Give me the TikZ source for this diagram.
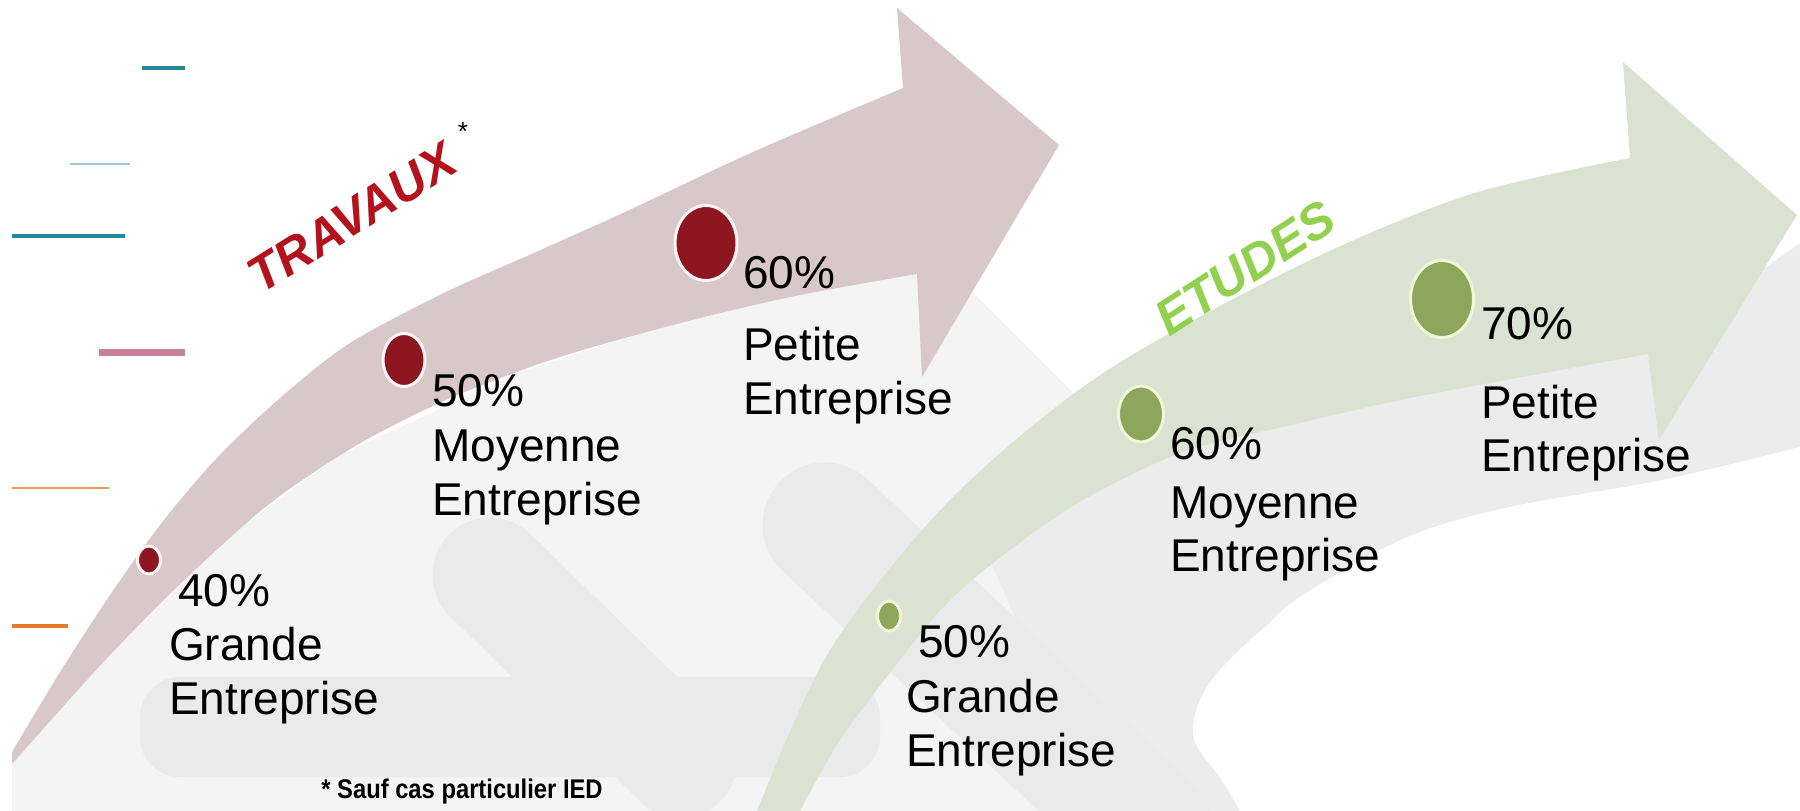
\documentclass[tikz,border=0pt]{standalone}
\usepackage{fontspec}
\setmainfont{Liberation Sans}
\usetikzlibrary{shapes.geometric}
\definecolor{brownband}{HTML}{D8C8C9}
\definecolor{greenband}{HTML}{DAE3D1}
\definecolor{lgrey}{HTML}{F4F4F4}
\definecolor{mgrey}{HTML}{EAEAEA}
\definecolor{arcgrey}{HTML}{ECECEC}
\definecolor{dotred}{HTML}{8E1620}
\definecolor{dotgreen}{HTML}{8CA65C}
\definecolor{ringr}{HTML}{FFF4F4}
\definecolor{ringg}{HTML}{F1F6D7}
\definecolor{travred}{HTML}{B3121C}
\definecolor{etugreen}{HTML}{92D050}
\definecolor{tealA}{HTML}{2A8497}
\definecolor{lblue}{HTML}{9FCAD3}
\definecolor{tealB}{HTML}{1F8A9C}
\definecolor{pinkl}{HTML}{C7819A}
\definecolor{orangeA}{HTML}{EE9A5C}
\definecolor{orangeB}{HTML}{E8792A}
\begin{document}
\begin{tikzpicture}[x=1pt,y=-1pt,
  lbl/.style={anchor=base west,inner sep=0pt,font=\fontsize{46}{54}\selectfont,text=black},
  rdot/.style={ellipse,fill=dotred,draw=ringr,line width=3pt,inner sep=0pt},
  gdot/.style={ellipse,fill=dotgreen,draw=ringg,line width=3pt,inner sep=0pt},
  bigword/.style={font=\fontsize{50}{60}\selectfont\bfseries\itshape,inner sep=0pt},
  legline/.style={line cap=butt}]
\useasboundingbox (0,0) rectangle (1800,811);
\fill[white] (0,0) rectangle (1800,811);

% light grey background region
\fill[lgrey] (12,811) -- (12,760) -- (110,640) -- (210,550) -- (340,455) -- (520,372)
  -- (745,300) -- (910,262) -- (970,290) -- (1110,430) -- (1150,811) -- cycle;

% grey arc
\fill[arcgrey] plot[smooth,tension=0.5] coordinates {(990,560) (1100,480) (1200,440) (1300,415) (1450,383) (1600,350) (1700,310) (1800,243)}
  -- (1800,447)
  -- plot[smooth,tension=0.5] coordinates {(1800,447) (1663,480) (1510,507) (1408,537) (1286,607) (1230,680) (1195,735)}
  -- (1240,811) -- (1100,811) -- cycle;

% grey bars
\fill[mgrey,rounded corners=40pt] (140,677) rectangle (880,777);
\draw[mgrey,line width=115pt,line cap=round] (490,575) -- (680,760);
\draw[mgrey,line width=125pt,line cap=round] (825,525) -- (1150,830);

% white region bottom right
\fill[white] plot[smooth,tension=0.5] coordinates {(1250,811) (1195,742) (1205,690) (1250,640) (1320,585) (1408,537) (1510,507) (1663,480) (1800,447)}
  -- (1800,811) -- cycle;

% brown arrow
\fill[brownband] plot[smooth,tension=0.5] coordinates {(12,752) (60,672) (110,595) (160,525) (215,460) (280,398) (350,343) (446,292) (536,252) (625,212) (753,152) (903,88)}
  -- (897,8) -- (1059,145) -- (922,377) -- (917,274)
  -- plot[smooth,tension=0.5] coordinates {(917,274) (800,295) (700,318) (600,345) (536,365) (446,400) (357,445) (268,505) (179,585) (110,655) (60,710) (12,764)}
  -- cycle;

% green arrow
\fill[greenband] plot[smooth,tension=0.5] coordinates {(757,811) (830,650) (950,500) (1100,375) (1300,265) (1468,195) (1630,158)}
  -- (1623,62) -- (1797,215) -- (1659,440) -- (1648,354)
  -- plot[smooth,tension=0.5] coordinates {(1648,354) (1506,380) (1400,400) (1300,423) (1183,452) (1083,500) (1010,550) (950,600) (900,660) (840,740) (800,811)}
  -- cycle;

% legend-like lines at left
\draw[legline,tealA,line width=3.5pt] (142,68) -- (185,68);
\draw[legline,lblue,line width=2pt] (70,164) -- (130,164);
\draw[legline,tealB,line width=4pt] (12,236) -- (125,236);
\draw[legline,pinkl,line width=7pt] (99,352) -- (185,352);
\draw[legline,orangeA,line width=2.5pt] (12,488) -- (109,488);
\draw[legline,orangeB,line width=4pt] (12,626) -- (68,626);

% titles
\node[bigword,text=travred,rotate=32] (trav) at (352,218) {TRAVAUX};
\node[inner sep=0pt,font=\fontsize{26}{30}\selectfont] (star) at (463,132) {*};
\node[bigword,text=etugreen,rotate=33] (etud) at (1245,268) {ETUDES};

% dots
\node[rdot,minimum width=23pt,minimum height=28pt] (bd1) at (149,560) {};
\node[rdot,minimum width=42pt,minimum height=53pt] (bd2) at (404,360) {};
\node[rdot,minimum width=62pt,minimum height=75pt] (bd3) at (706,243) {};
\node[gdot,minimum width=23pt,minimum height=30pt] (gd1) at (889,616) {};
\node[gdot,minimum width=45pt,minimum height=56pt] (gd2) at (1141,414) {};
\node[gdot,minimum width=63pt,minimum height=77pt] (gd3) at (1442,299) {};

% labels TRAVAUX
\node[lbl] (b1a) at (178,606) {40\%};
\node[lbl] (b1b) at (169,660) {Grande};
\node[lbl] (b1c) at (169,714) {Entreprise};
\node[lbl] (b2a) at (432,406) {50\%};
\node[lbl] (b2b) at (432,461) {Moyenne};
\node[lbl] (b2c) at (432,515) {Entreprise};
\node[lbl] (b3a) at (743,288) {60\%};
\node[lbl] (b3b) at (743,360) {Petite};
\node[lbl] (b3c) at (743,414) {Entreprise};

% labels ETUDES
\node[lbl] (g1a) at (918,657) {50\%};
\node[lbl] (g1b) at (906,712) {Grande};
\node[lbl] (g1c) at (906,766) {Entreprise};
\node[lbl] (g2a) at (1170,459) {60\%};
\node[lbl] (g2b) at (1170,518) {Moyenne};
\node[lbl] (g2c) at (1170,571) {Entreprise};
\node[lbl] (g3a) at (1481,339) {70\%};
\node[lbl] (g3b) at (1481,418) {Petite};
\node[lbl] (g3c) at (1481,471) {Entreprise};

% footnote
\node[inner sep=0pt,font=\fontsize{27}{31}\selectfont\bfseries] (foot) at (462,792) {\scalebox{0.88}[1]{* Sauf cas particulier IED}};
\end{tikzpicture}
\end{document}
